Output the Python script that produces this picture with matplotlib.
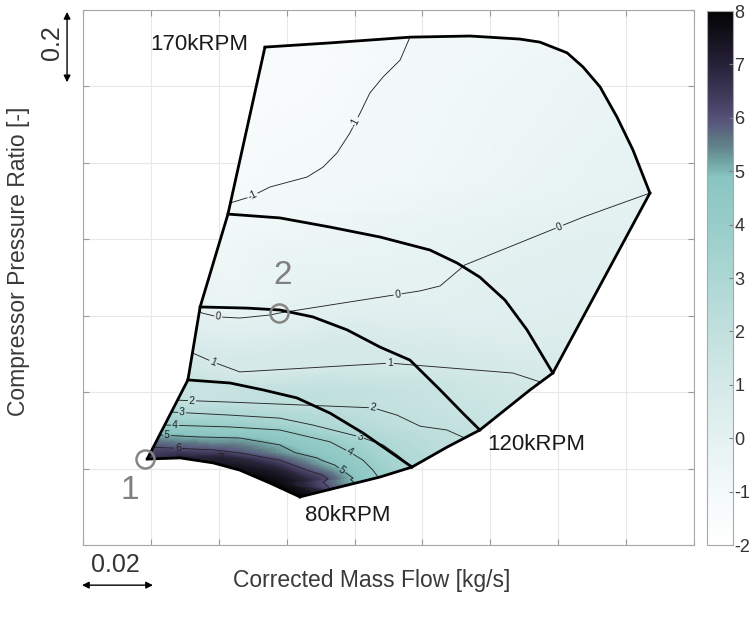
import numpy as np
import matplotlib.pyplot as plt
import matplotlib.tri as mtri
from matplotlib.colors import LinearSegmentedColormap, Normalize
from matplotlib.cm import ScalarMappable
from matplotlib.patches import Polygon

plt.rcParams['font.family'] = ['Liberation Sans', 'DejaVu Sans']
plt.rcParams['axes.unicode_minus'] = False

# map outline (mass flow [kg/s], pressure ratio [-])
surge_x = [0.0389, 0.0509, 0.0545, 0.0627, 0.0736]
surge_y = [1.225, 1.432, 1.623, 1.866, 2.303]
top_x = [0.0736, 0.0928, 0.1163, 0.1340, 0.1487, 0.1546, 0.1626, 0.1673, 0.1723, 0.1773, 0.1820, 0.1870]
top_y = [2.303, 2.314, 2.329, 2.332, 2.324, 2.316, 2.288, 2.251, 2.199, 2.120, 2.034, 1.921]
choke_x = [0.1870, 0.1584, 0.1517, 0.1369, 0.1272, 0.1169, 0.1075, 0.0839]
choke_y = [1.921, 1.450, 1.406, 1.301, 1.256, 1.204, 1.178, 1.126]
low_x = [0.0389, 0.0486, 0.0583, 0.0662, 0.0751, 0.0839]
low_y = [1.225, 1.228, 1.215, 1.196, 1.162, 1.126]

# inner speed lines
sp2_x = [0.0509, 0.0633, 0.0730, 0.0830, 0.0928, 0.1025, 0.1169]
sp2_y = [1.432, 1.424, 1.406, 1.385, 1.345, 1.293, 1.204]
sp3_x = [0.0545, 0.0683, 0.0780, 0.0877, 0.0978, 0.1075, 0.1163, 0.1252, 0.1319, 0.1369]
sp3_y = [1.623, 1.620, 1.615, 1.597, 1.563, 1.518, 1.484, 1.406, 1.345, 1.301]
sp4_x = [0.0627, 0.0780, 0.0928, 0.1075, 0.1222, 0.1302, 0.1369, 0.1443, 0.1508, 0.1584]
sp4_y = [1.866, 1.856, 1.832, 1.806, 1.772, 1.738, 1.701, 1.641, 1.563, 1.450]

# traced iso-lines of the plotted quantity
lev_m1_x = [0.0633, 0.0692, 0.0751, 0.0810, 0.0860, 0.0907, 0.0948, 0.0986, 0.1016, 0.1045, 0.1084, 0.1134, 0.1163]
lev_m1_y = [1.895, 1.911, 1.937, 1.963, 1.963, 1.989, 2.026, 2.078, 2.130, 2.183, 2.225, 2.269, 2.329]
lev_0_x = [0.0551, 0.0598, 0.0662, 0.0751, 0.0777, 0.0810, 0.0877, 0.0978, 0.1125, 0.1193, 0.1252, 0.1325,
           0.1378, 0.1508, 0.1599, 0.1673, 0.1773, 0.1870]
lev_0_y = [1.607, 1.597, 1.594, 1.602, 1.607, 1.636, 1.659, 1.667, 1.667, 1.665, 1.678, 1.733,
           1.772, 1.824, 1.843, 1.858, 1.895, 1.921]
lev_1_x = [0.0524, 0.0583, 0.0662, 0.0780, 0.0928, 0.1025, 0.1104, 0.1222, 0.1369, 0.1467, 0.1546]
lev_1_y = [1.502, 1.479, 1.453, 1.479, 1.510, 1.492, 1.476, 1.476, 1.466, 1.450, 1.427]
lev_2_x = [0.0480, 0.0633, 0.0780, 0.0889, 0.0978, 0.1054, 0.1125, 0.1193, 0.1272, 0.1325]
lev_2_y = [1.379, 1.374, 1.387, 1.400, 1.385, 1.359, 1.340, 1.311, 1.301, 1.280]
lev_3_x = [0.0459, 0.0633, 0.0780, 0.0877, 0.1016, 0.1084, 0.1125, 0.1163]
lev_3_y = [1.348, 1.340, 1.332, 1.314, 1.283, 1.262, 1.236, 1.209]
lev_4_x = [0.0442, 0.0633, 0.0780, 0.0928, 0.0986, 0.1025, 0.1054, 0.1069]
lev_4_y = [1.314, 1.309, 1.301, 1.270, 1.243, 1.222, 1.196, 1.178]
lev_5_x = [0.0427, 0.0536, 0.0662, 0.0780, 0.0889, 0.0963, 0.1001]
lev_5_y = [1.288, 1.283, 1.280, 1.262, 1.228, 1.196, 1.162]
lev_6_x = [0.0406, 0.0583, 0.0662, 0.0780, 0.0860, 0.0907, 0.0928]
lev_6_y = [1.256, 1.249, 1.241, 1.222, 1.196, 1.165, 1.147]
lev_7_x = [0.0530, 0.0604, 0.0683, 0.0780, 0.0848, 0.0892]
lev_7_y = [1.222, 1.228, 1.217, 1.196, 1.170, 1.139]

# values on the outline
edge_x = [0.0736, 0.0928, 0.1340, 0.1546, 0.1673, 0.1773, 0.1820, 0.1584, 0.1517, 0.1369, 0.1272,
          0.1169, 0.1075, 0.0839, 0.0751, 0.0662, 0.0583, 0.0486, 0.0389, 0.0509, 0.0545, 0.0627]
edge_y = [2.303, 2.314, 2.332, 2.316, 2.251, 2.120, 2.034, 1.450, 1.406, 1.301, 1.256,
          1.204, 1.178, 1.126, 1.162, 1.196, 1.215, 1.228, 1.225, 1.432, 1.623, 1.866]
edge_val = [-1.4, -1.2, -0.85, -0.7, -0.5, -0.3, -0.15, 0.85, 1.15, 1.8, 2.2,
            3.05, 3.95, 8.0, 7.9, 7.6, 7.3, 6.9, 6.6, 1.55, -0.1, -0.9]

levels = [-1, 0, 1, 2, 3, 4, 5, 6, 7]
label_pos = [(0.0701, 1.911), (0.1001, 2.107), (0.0598, 1.597), (0.1125, 1.667), (0.1599, 1.843),
             (0.0583, 1.479), (0.1104, 1.476), (0.0521, 1.379), (0.1054, 1.359), (0.0492, 1.345),
             (0.1016, 1.283), (0.0471, 1.314), (0.0986, 1.243), (0.0447, 1.288), (0.0963, 1.196),
             (0.0480, 1.254), (0.0604, 1.228)]

pt1 = (0.0383, 1.225)
pt2 = (0.0777, 1.607)

cmap = LinearSegmentedColormap.from_list('map', [
    (0.00, '#ffffff'), (0.10, '#f3f9f9'), (0.20, '#e5f1f1'), (0.30, '#d4e9e8'),
    (0.40, '#c1e0de'), (0.50, '#add7d4'), (0.60, '#98cdc9'), (0.69, '#89c5c1'),
    (0.715, '#73a7a7'), (0.75, '#628089'), (0.80, '#555078'), (0.85, '#3d3756'),
    (0.90, '#27223a'), (0.95, '#16131f'), (1.00, '#040404')])
norm = Normalize(-2, 8)

# build the field from the traced lines and outline values
px, py, pz = list(edge_x), list(edge_y), list(edge_val)
for lv, xs, ys in zip(levels,
                      [lev_m1_x, lev_0_x, lev_1_x, lev_2_x, lev_3_x, lev_4_x, lev_5_x, lev_6_x, lev_7_x],
                      [lev_m1_y, lev_0_y, lev_1_y, lev_2_y, lev_3_y, lev_4_y, lev_5_y, lev_6_y, lev_7_y]):
    px += xs
    py += ys
    pz += [lv] * len(xs)
px, py, pz = np.array(px), np.array(py), np.array(pz, dtype=float)

tri = mtri.Triangulation(px, py)
interp = mtri.CubicTriInterpolator(tri, pz, kind='geom')
tri_f, z_f = mtri.UniformTriRefiner(tri).refine_field(pz, triinterpolator=interp, subdiv=4)

fig = plt.figure(figsize=(7.52, 6.19), dpi=100)
ax = fig.add_axes([0.1104, 0.1195, 0.8125, 0.8643])
cax = fig.add_axes([0.9402, 0.1195, 0.0346, 0.8627])

outline = np.array(list(zip(surge_x + top_x[1:] + choke_x[1:] + low_x[::-1][1:],
                            surge_y + top_y[1:] + choke_y[1:] + low_y[::-1][1:])))
clip = Polygon(outline, closed=True, fc='none', ec='none')
ax.add_patch(clip)

cf = ax.tricontourf(tri_f, z_f, levels=np.linspace(-2, 8, 121), cmap=cmap, norm=norm, extend='both')
cf.set_clip_path(clip)

# iso-lines on the plain triangulation, nudged off the traced values
cl = ax.tricontour(tri, pz, levels=[v + 1e-4 for v in levels], colors='#262626',
                   linewidths=0.65, negative_linestyles='solid')
cl.set_clip_path(clip)
ax.clabel(cl, manual=label_pos, inline=True, inline_spacing=2, fontsize=7.5,
          fmt=lambda v: '%d' % round(v), colors='#222222')

lw = 2.0
ax.plot(surge_x, surge_y, color='k', lw=lw, solid_capstyle='round')
ax.plot(top_x, top_y, color='k', lw=lw)
ax.plot(choke_x, choke_y, color='k', lw=lw)
ax.plot(low_x, low_y, color='k', lw=lw)
for xs, ys in [(sp2_x, sp2_y), (sp3_x, sp3_y), (sp4_x, sp4_y)]:
    ax.plot(xs, ys, color='k', lw=lw)

ax.plot(*pt1, 'o', mfc='none', mec='#858585', ms=13, mew=1.8, clip_on=False)
ax.plot(*pt2, 'o', mfc='none', mec='#858585', ms=13, mew=1.8)
ax.text(0.0338, 1.144, '1', fontsize=24, color='#808080', ha='center', va='center')
ax.text(0.0789, 1.706, '2', fontsize=24, color='#808080', ha='center', va='center')

ax.text(0.0686, 2.311, '170kRPM', fontsize=16, ha='right', va='center', color='#1a1a1a')
ax.text(0.1390, 1.262, '120kRPM', fontsize=16, ha='left', va='center', color='#1a1a1a')
ax.text(0.0854, 1.0785, '80kRPM', fontsize=16, ha='left', va='center', color='#1a1a1a')

ax.set_xlim(0.02, 0.20)
ax.set_ylim(1.0, 2.4)
ax.set_xticks(np.arange(0.02, 0.2001, 0.02))
ax.set_yticks(np.arange(1.0, 2.4001, 0.2))
ax.grid(True, color='#e8e8e8', lw=0.8)
ax.set_axisbelow(True)
ax.tick_params(direction='in', top=True, right=True, labelbottom=False, labelleft=False,
               length=4, color='#9a9a9a')
for s in ax.spines.values():
    s.set_color('#a8a8a8')

ax.set_xlabel('Corrected Mass Flow [kg/s]', fontsize=16.5, color='#3a3a3a')
ax.xaxis.set_label_coords(0.473, -0.045)
ax.set_ylabel('Compressor Pressure Ratio [-]', fontsize=16.5, color='#3a3a3a')
ax.yaxis.set_label_coords(-0.087, 0.53)

# scale bars
ax.annotate('', xy=(0.0153, 2.395), xytext=(0.0153, 2.211), annotation_clip=False,
            arrowprops=dict(arrowstyle='<|-|>', color='k', lw=1, mutation_scale=10, shrinkA=0, shrinkB=0))
ax.text(0.0109, 2.316, '0.2', rotation=90, fontsize=18, ha='center', va='center', color='#333333')
ax.annotate('', xy=(0.0197, 0.895), xytext=(0.0406, 0.895), annotation_clip=False,
            arrowprops=dict(arrowstyle='<|-|>', color='k', lw=1, mutation_scale=10, shrinkA=0, shrinkB=0))
ax.text(0.0294, 0.948, '0.02', fontsize=18, ha='center', va='center', color='#333333')

cb = fig.colorbar(ScalarMappable(norm=norm, cmap=cmap), cax=cax, ticks=range(-2, 9))
cb.outline.set_edgecolor('#a8a8a8')
cb.ax.tick_params(direction='in', length=3, color='#808080', labelsize=13, labelcolor='#333333', pad=1)

fig.savefig('out.png', dpi=100)
